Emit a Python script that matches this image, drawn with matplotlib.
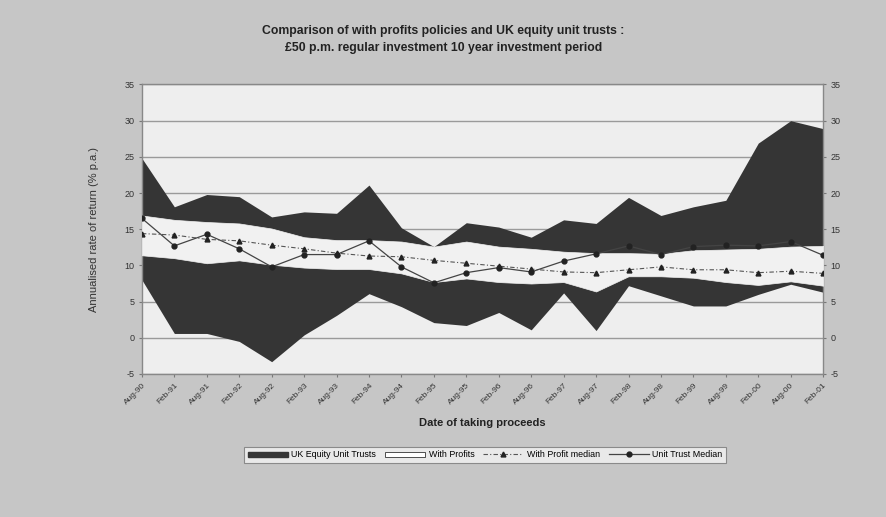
import numpy as np
import matplotlib
matplotlib.use("Agg")
import matplotlib.pyplot as plt
from matplotlib.patches import Patch
from matplotlib.lines import Line2D

plt.rcParams["font.family"] = ["Liberation Sans", "DejaVu Sans"]
plt.rcParams["axes.unicode_minus"] = False

dates = ["Aug-90", "Feb-91", "Aug-91", "Feb-92", "Aug-92", "Feb-93", "Aug-93",
         "Feb-94", "Aug-94", "Feb-95", "Aug-95", "Feb-96", "Aug-96", "Feb-97",
         "Aug-97", "Feb-98", "Aug-98", "Feb-99", "Aug-99", "Feb-00", "Aug-00",
         "Feb-01"]

# UK equity unit trusts: range of returns
ut_max = [24.8, 18.1, 19.8, 19.5, 16.7, 17.4, 17.2, 21.1, 15.2, 12.6, 15.9,
          15.3, 13.9, 16.3, 15.8, 19.4, 16.9, 18.1, 19.0, 26.9, 30.0, 28.9]
ut_min = [8.0, 0.6, 0.6, -0.5, -3.3, 0.4, 3.1, 6.1, 4.3, 2.1, 1.7,
          3.5, 1.1, 6.2, 1.0, 7.2, 5.8, 4.4, 4.4, 6.0, 7.4, 6.3]

# With profits policies: range of returns
wp_max = [16.9, 16.3, 16.0, 15.8, 15.1, 13.9, 13.5, 13.5, 13.3, 12.6, 13.3,
          12.6, 12.3, 11.9, 11.7, 11.7, 11.6, 12.1, 12.2, 12.3, 12.6, 12.7]
wp_min = [11.4, 11.0, 10.3, 10.7, 10.1, 9.7, 9.5, 9.5, 8.9, 7.7, 8.2,
          7.7, 7.5, 7.7, 6.4, 8.5, 8.5, 8.3, 7.7, 7.3, 7.8, 7.2]

wp_median = [14.4, 14.2, 13.6, 13.4, 12.8, 12.3, 11.7, 11.3, 11.2, 10.7, 10.3,
             9.9, 9.5, 9.1, 9.0, 9.4, 9.8, 9.4, 9.4, 9.0, 9.2, 8.9]
ut_median = [16.5, 12.7, 14.3, 12.3, 9.8, 11.5, 11.5, 13.4, 9.8, 7.6, 9.0,
             9.7, 9.1, 10.6, 11.6, 12.7, 11.5, 12.6, 12.8, 12.7, 13.3, 11.4]

dark = "#353535"
x = np.arange(len(dates))

fig = plt.figure(figsize=(8.87, 5.17), dpi=100, facecolor="#c6c6c6")
ax = fig.add_axes([0.16, 0.2766, 0.768, 0.56])
ax.set_facecolor("#eeeeee")

ax.fill_between(x, ut_min, ut_max, color=dark, lw=0, zorder=2)
ax.fill_between(x, wp_min, wp_max, facecolor="#f1f1f1", edgecolor="#f1f1f1",
                lw=0.5, zorder=3)
ax.plot(x, wp_median, color="#555555", lw=0.8, ls=(0, (4, 2, 1, 2)),
        marker="^", ms=3.5, mfc="#222222", mec="#222222", zorder=4)
ax.plot(x, ut_median, color="#444444", lw=0.9, ls="-",
        marker="o", ms=3.5, mfc="#222222", mec="#222222", zorder=5)

ax.set_xlim(0, len(dates) - 1)
ax.set_ylim(-5, 35)
ax.set_yticks(np.arange(-5, 36, 5))
ax.yaxis.grid(True, color="#9a9a9a", lw=1.0, zorder=1)
ax.set_axisbelow(True)
ax.tick_params(axis="y", labelsize=6.5, length=2, color="#777777",
               right=True, labelright=True, labelcolor="#333333")
ax.set_xticks(x)
ax.set_xticklabels(dates, rotation=45, ha="right", rotation_mode="anchor",
                   fontsize=6, color="#333333")
ax.tick_params(axis="x", length=2, color="#777777")
for s in ax.spines.values():
    s.set_color("#888888")
    s.set_linewidth(1.0)

ax.set_ylabel("Annualised rate of return (% p.a.)", fontsize=8,
              color="#333333", labelpad=18)
ax.set_xlabel("Date of taking proceeds", fontsize=8, fontweight="bold",
              color="#222222", labelpad=9)

fig.text(0.5, 0.924, "Comparison of with profits policies and UK equity unit trusts :\n"
         "£50 p.m. regular investment 10 year investment period",
         ha="center", va="center", fontsize=8.8, fontweight="bold",
         color="#222222", linespacing=1.5)

handles = [
    Patch(facecolor=dark, edgecolor=dark, label="UK Equity Unit Trusts"),
    Patch(facecolor="#ffffff", edgecolor="#333333", lw=0.6, label="With Profits"),
    Line2D([], [], color="#555555", lw=0.8, ls=(0, (4, 2, 1, 2)), marker="^",
           ms=3.5, mfc="#222222", mec="#222222", label="With Profit median"),
    Line2D([], [], color="#444444", lw=0.9, marker="o", ms=3.5,
           mfc="#222222", mec="#222222", label="Unit Trust Median"),
]
leg = fig.legend(handles=handles, loc="center", bbox_to_anchor=(0.547, 0.12),
                 ncol=4, fontsize=6.4, frameon=True, fancybox=False,
                 handlelength=4.5, handleheight=0.6, columnspacing=1.0,
                 handletextpad=0.4, borderpad=0.4)
leg.get_frame().set_facecolor("#f2f2f2")
leg.get_frame().set_edgecolor("#777777")
leg.get_frame().set_linewidth(0.8)

fig.savefig("out.png", dpi=100, facecolor=fig.get_facecolor())
